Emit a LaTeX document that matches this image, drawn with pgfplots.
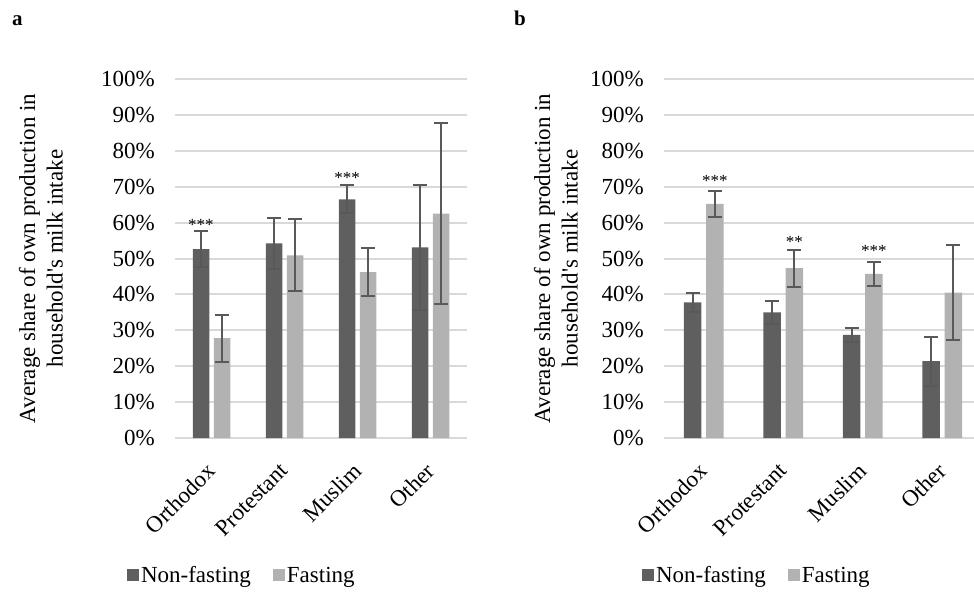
\documentclass[border=0pt]{standalone}
\usepackage{fontspec}
\setmainfont{Liberation Serif}
\usepackage{pgfplots}
\pgfplotsset{compat=1.18}
\definecolor{nf}{HTML}{5F5F5F}
\definecolor{fa}{HTML}{B2B2B2}
\definecolor{err}{HTML}{595959}
\definecolor{grid}{HTML}{D9D9D9}
\newcommand{\bigf}{\fontsize{23}{27.5}\selectfont}
\pgfplotsset{
  mystyle/.style={
    scale only axis, height=359pt,
    ymin=0, ymax=100, ytick={0,10,...,100},
    yticklabels={0\%,10\%,20\%,30\%,40\%,50\%,60\%,70\%,80\%,90\%,100\%},
    xtick={0,1,2,3}, xticklabels={Orthodox,Protestant,Muslim,Other},
    xmin=-0.5, xmax=3.5,
    ymajorgrids, major grid style={draw=grid, line width=2pt},
    axis line style={draw=none}, major tick style={draw=none},
    tick label style={font=\bigf},
    yticklabel style={inner sep=0pt, xshift=-20pt},
    xticklabel style={xshift=-6pt, yshift=-19pt, rotate=45, anchor=north east, inner sep=0pt},
    ybar,
    legend style={anchor=center, draw=none, fill=none, legend columns=2, font=\bigf,
      /tikz/every even column/.append style={column sep=20pt}},
    legend cell align=left,
    legend image code/.code={\fill[##1] (0pt,-6pt) rectangle (12pt,6pt);},
    error bars/y dir=both, error bars/y explicit,
    error bars/error bar style={draw=err, line width=2pt},
    error bars/error mark options={draw=err, line width=2pt, mark size=7pt, rotate=90},
    ylabel={Average share of own production in\\household\textquotesingle s milk intake},
    ylabel style={align=center, font=\bigf, anchor=center},
  }
}
\begin{document}
\begin{tikzpicture}
\useasboundingbox (0pt,0pt) rectangle (974pt,-592pt);
\node[anchor=base west, inner sep=0pt, font=\bfseries\fontsize{21}{25}\selectfont] at (12pt,-25pt) {a};
\node[anchor=base west, inner sep=0pt, font=\bfseries\fontsize{21}{25}\selectfont] at (514pt,-25pt) {b};

\begin{axis}[mystyle, width=292pt, at={(175pt,-438pt)}, anchor=south west,
  bar width=16.5pt,
  ylabel style={at={(axis description cs:-0.459,0.5)}},
  legend style={at={(0.229,-0.382)}}]
\addplot[fill=nf, draw=none, bar shift=-10.5pt] coordinates {
  (0,52.6) +- (0,5.0)
  (1,54.2) +- (0,7.0)
  (2,66.5) +- (0,3.9)
  (3,53.1) +- (0,17.5)
};
\addplot[fill=fa, draw=none, bar shift=10.5pt] coordinates {
  (0,27.8) +- (0,6.6)
  (1,50.9) +- (0,10.0)
  (2,46.2) +- (0,6.6)
  (3,62.5) +- (0,25.2)
};
\legend{Non-fasting, Fasting}
\node[font=\fontsize{17}{20}\selectfont, anchor=base, inner sep=0pt, xshift=-10.5pt] at (axis cs:0,57.8) {***};
\node[font=\fontsize{17}{20}\selectfont, anchor=base, inner sep=0pt, xshift=-10.5pt] at (axis cs:2,70.9) {***};
\end{axis}

\begin{axis}[mystyle, width=318pt, at={(664pt,-438pt)}, anchor=south west,
  bar width=17.5pt,
  ylabel style={at={(axis description cs:-0.340,0.5)}},
  legend style={at={(0.292,-0.382)}}]
\addplot[fill=nf, draw=none, bar shift=-11.2pt] coordinates {
  (0,37.8) +- (0,2.6)
  (1,35.0) +- (0,3.3)
  (2,28.7) +- (0,1.9)
  (3,21.4) +- (0,6.8)
};
\addplot[fill=fa, draw=none, bar shift=11.2pt] coordinates {
  (0,65.2) +- (0,3.5)
  (1,47.3) +- (0,5.1)
  (2,45.7) +- (0,3.3)
  (3,40.5) +- (0,13.3)
};
\legend{Non-fasting, Fasting}
\node[font=\fontsize{17}{20}\selectfont, anchor=base, inner sep=0pt, xshift=11.2pt] at (axis cs:0,70.1) {***};
\node[font=\fontsize{17}{20}\selectfont, anchor=base, inner sep=0pt, xshift=11.2pt] at (axis cs:1,53.1) {**};
\node[font=\fontsize{17}{20}\selectfont, anchor=base, inner sep=0pt, xshift=11.2pt] at (axis cs:2,50.6) {***};
\end{axis}
\end{tikzpicture}
\end{document}
